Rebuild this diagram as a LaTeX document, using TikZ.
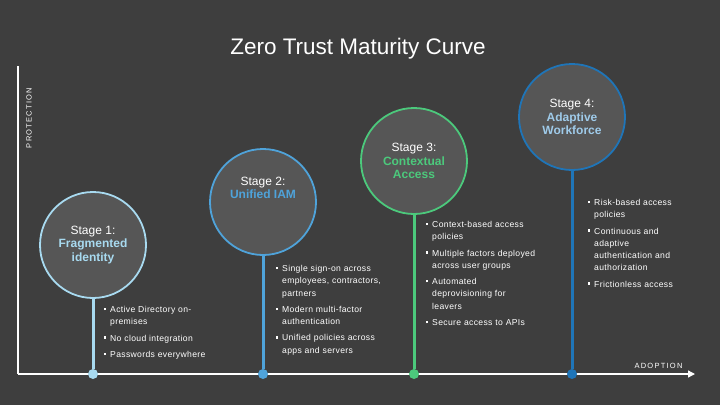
\documentclass[tikz,border=0pt]{standalone}
\usepackage{fontspec}
\setmainfont{Liberation Sans}
\usetikzlibrary{arrows.meta}
\definecolor{bg}{HTML}{3E3E3E}
\definecolor{cfill}{HTML}{565656}
\definecolor{cA}{HTML}{A8DAF0}
\definecolor{cB}{HTML}{4FA3DA}
\definecolor{cC}{HTML}{4CC97C}
\definecolor{cD}{HTML}{1F75B8}
\definecolor{tD}{HTML}{9FCBEA}
\tikzset{
 stage/.style={circle,draw=#1,fill=cfill,line width=1.8pt,minimum size=106pt,align=center,text=white,font=\fontsize{12}{14.5}\selectfont},
 stem/.style={line width=3pt,draw=#1},
 dot/.style={circle,fill=#1,inner sep=0pt,minimum size=10pt},
 blt/.style={anchor=north west,text=white,align=left,inner sep=0pt,font=\addfontfeatures{LetterSpace=4}\fontsize{8.6}{12.3}\selectfont,text width=#1},
 axis/.style={draw=white,line width=1.4pt}
}
\newcommand{\sq}{\makebox[0pt][r]{\rule[0.5ex]{2.5pt}{2.5pt}\hspace{4pt}}}
\begin{document}
\begin{tikzpicture}[x=1pt,y=-1pt]
\fill[bg] (0,0) rectangle (720,405);
\useasboundingbox (0,0) rectangle (720,405);
\node[text=white,font=\fontsize{22.5}{26}\selectfont] (title) at (358,49) {Zero Trust Maturity Curve};
\coordinate (o) at (18,374);
\coordinate (top) at (18,66);
\coordinate (right) at (695,374);
\draw[axis] (top) -- (o);
\draw[axis,-{Triangle[length=7pt,width=7pt]}] (o) -- (right);
\node[rotate=90,text=white,font=\fontsize{7.5}{8}\selectfont] (py) at (29,118) {P\,R\,O\,T\,E\,C\,T\,I\,O\,N};
\node[text=white,font=\fontsize{7.5}{8}\selectfont,anchor=east] (px) at (686,366) {A\,D\,O\,P\,T\,I\,O\,N};
% stages
\node[stage=cA] (s1) at (93,245) {Stage 1:\\[-1pt]\textbf{\color{cA}Fragmented}\\[-1pt]\textbf{\color{cA}identity}};
\node[stage=cB] (s2) at (263,202) {Stage 2:\\[-1pt]\textbf{\color{cB}Unified IAM}\\[14pt]};
\node[stage=cC] (s3) at (414,161) {Stage 3:\\[-1pt]\textbf{\color{cC}Contextual}\\[-1pt]\textbf{\color{cC}Access}};
\node[stage=cD] (s4) at (572,117) {Stage 4:\\[-1pt]\textbf{\color{tD}Adaptive}\\[-1pt]\textbf{\color{tD}Workforce}};
\node[dot=cA] (d1) at (93,374) {};
\node[dot=cB] (d2) at (263,374) {};
\node[dot=cC] (d3) at (414,374) {};
\node[dot=cD] (d4) at (572,374) {};
\draw[stem=cA] (s1.south) -- (d1);
\draw[stem=cB] (s2.south) -- (d2);
\draw[stem=cC] (s3.south) -- (d3);
\draw[stem=cD] (s4.south) -- (d4);
% bullets
\node[blt=120pt] (b1) at (110,306) {\sq Active Directory on-\\premises\\[4pt]\sq No cloud integration\\[4pt]\sq Passwords everywhere};
\node[blt=125pt] (b2) at (282,265) {\sq Single sign-on across\\employees, contractors,\\partners\\[4pt]\sq Modern multi-factor\\authentication\\[4pt]\sq Unified policies across\\apps and servers};
\node[blt=130pt] (b3) at (432,221) {\sq Context-based access\\policies\\[4pt]\sq Multiple factors deployed\\across user groups\\[4pt]\sq Automated\\deprovisioning for\\leavers\\[4pt]\sq Secure access to APIs};
\node[blt=100pt] (b4) at (594,199) {\sq Risk-based access\\policies\\[4pt]\sq Continuous and\\adaptive\\authentication and\\authorization\\[4pt]\sq Frictionless access};
\end{tikzpicture}
\end{document}
